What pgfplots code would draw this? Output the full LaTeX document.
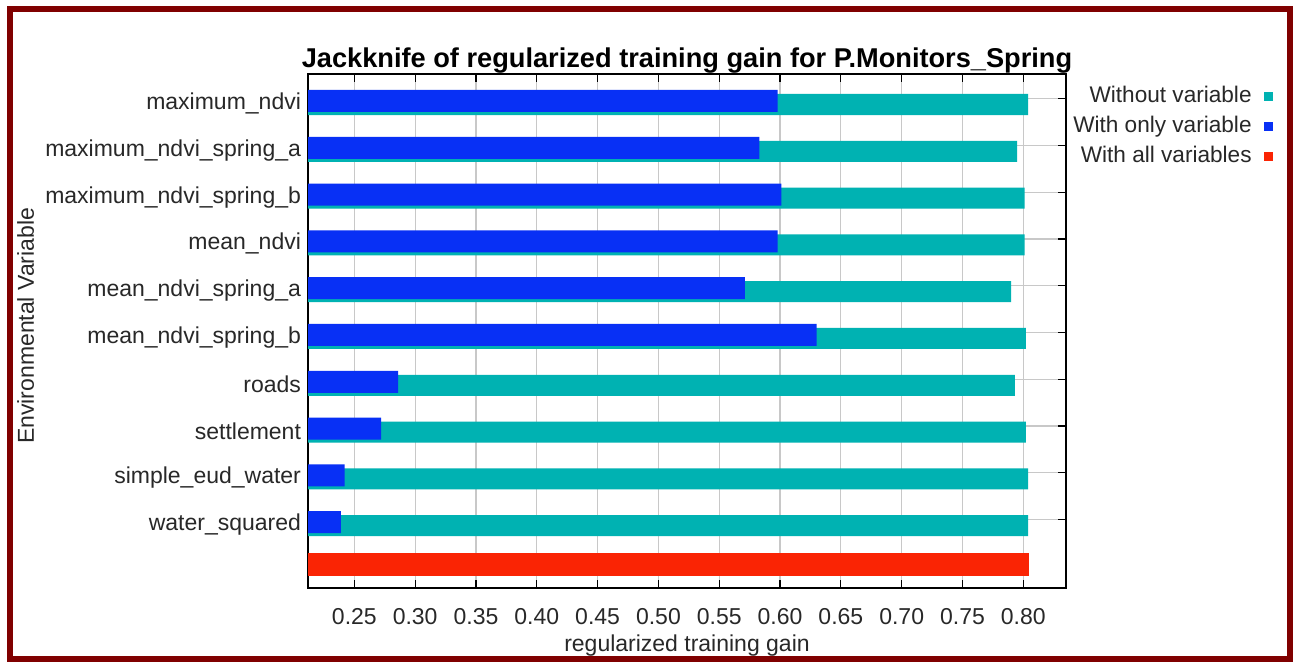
\documentclass[border=0pt]{standalone}
\usepackage{fontspec}
\setmainfont{Liberation Sans}
\usepackage{pgfplots}
\pgfplotsset{compat=1.18}
\definecolor{cwo}{RGB}{0,178,178}
\definecolor{conly}{RGB}{8,48,245}
\definecolor{call}{RGB}{250,36,4}
\definecolor{framec}{RGB}{128,0,0}
\definecolor{gridc}{RGB}{200,200,200}
\definecolor{txt}{RGB}{40,40,40}
\begin{document}
\begin{tikzpicture}
\useasboundingbox (0pt,0pt) rectangle (649.5pt,331pt);
\fill[white] (0pt,0pt) rectangle (649.5pt,331pt);
\draw[framec, line width=3pt] (5pt,1.5pt) rectangle (645pt,326.5pt);
\begin{axis}[
  at={(154pt,37pt)}, anchor=south west,
  scale only axis, width=379pt, height=257pt,
  xmin=0.2119, xmax=0.8351, ymin=-0.524, ymax=10.46, y dir=reverse,
  xtick={0.25,0.30,0.35,0.40,0.45,0.50,0.55,0.60,0.65,0.70,0.75,0.80},
  xticklabel style={/pgf/number format/fixed, /pgf/number format/precision=2, /pgf/number format/fixed zerofill, anchor=base, yshift=-18pt},
  /pgf/number format/assume math mode=true,
  ytick={0,1,2,3,4,5,6,7,8,9},
  yticklabels={maximum\_ndvi, maximum\_ndvi\_spring\_a, maximum\_ndvi\_spring\_b, mean\_ndvi, mean\_ndvi\_spring\_a, mean\_ndvi\_spring\_b, roads, settlement, simple\_eud\_water, water\_squared},
  yticklabel style={yshift=-2.5pt},
  tick align=inside, xtick pos=both, ytick pos=both,
  major tick length=4pt,
  tick style={black, line width=0.6pt},
  axis line style={black, line width=0.75pt},
  grid=major, grid style={gridc, line width=0.6pt},
  tick label style={font=\fontsize{11.5}{13}\selectfont, text=txt},
  label style={font=\fontsize{11.5}{13}\selectfont, text=txt},
  title={Jackknife of regularized training gain for P.Monitors\_Spring},
  title style={font=\bfseries\fontsize{13.6}{15}\selectfont, at={(0.5,1.0136)}, anchor=base, yshift=-6pt},
  xlabel={regularized training gain},
  xlabel style={at={(0.5,-0.1245)}, anchor=base},
  ylabel={Environmental Variable},
  ylabel style={at={(-0.3615,0.51)}, anchor=base},
  legend style={at={(1,1)}, anchor=north east, xshift=103.5pt, yshift=-5pt, draw=none, fill=none, inner sep=0pt, row sep=2.5pt, nodes={inner sep=1pt, text height=8pt, text depth=2.5pt, font=\fontsize{11.3}{13}\selectfont, text=txt}},
  legend plot pos=right, legend cell align=right,
  legend image code/.code={\path (0pt,0pt); \fill[#1] (5pt,-2.25pt) rectangle (9.5pt,2.25pt);},
]
\addplot[xbar, bar width=0.449, bar shift=0pt, fill=cwo, draw=none] coordinates {
 (0.804,0.128) (0.795,1.128) (0.801,2.128) (0.801,3.128) (0.790,4.128)
 (0.802,5.128) (0.793,6.128) (0.802,7.128) (0.804,8.128) (0.804,9.128)};
\addplot[xbar, bar width=0.47, bar shift=0pt, fill=conly, draw=none] coordinates {
 (0.598,0.053) (0.583,1.053) (0.601,2.053) (0.598,3.053) (0.571,4.053)
 (0.630,5.053) (0.286,6.053) (0.272,7.053) (0.242,8.053) (0.239,9.053)};
\addplot[xbar, bar width=0.49, bar shift=0pt, fill=call, draw=none] coordinates {(0.805,9.957)};
\legend{Without variable, With only variable, With all variables}
\end{axis}
\end{tikzpicture}
\end{document}
